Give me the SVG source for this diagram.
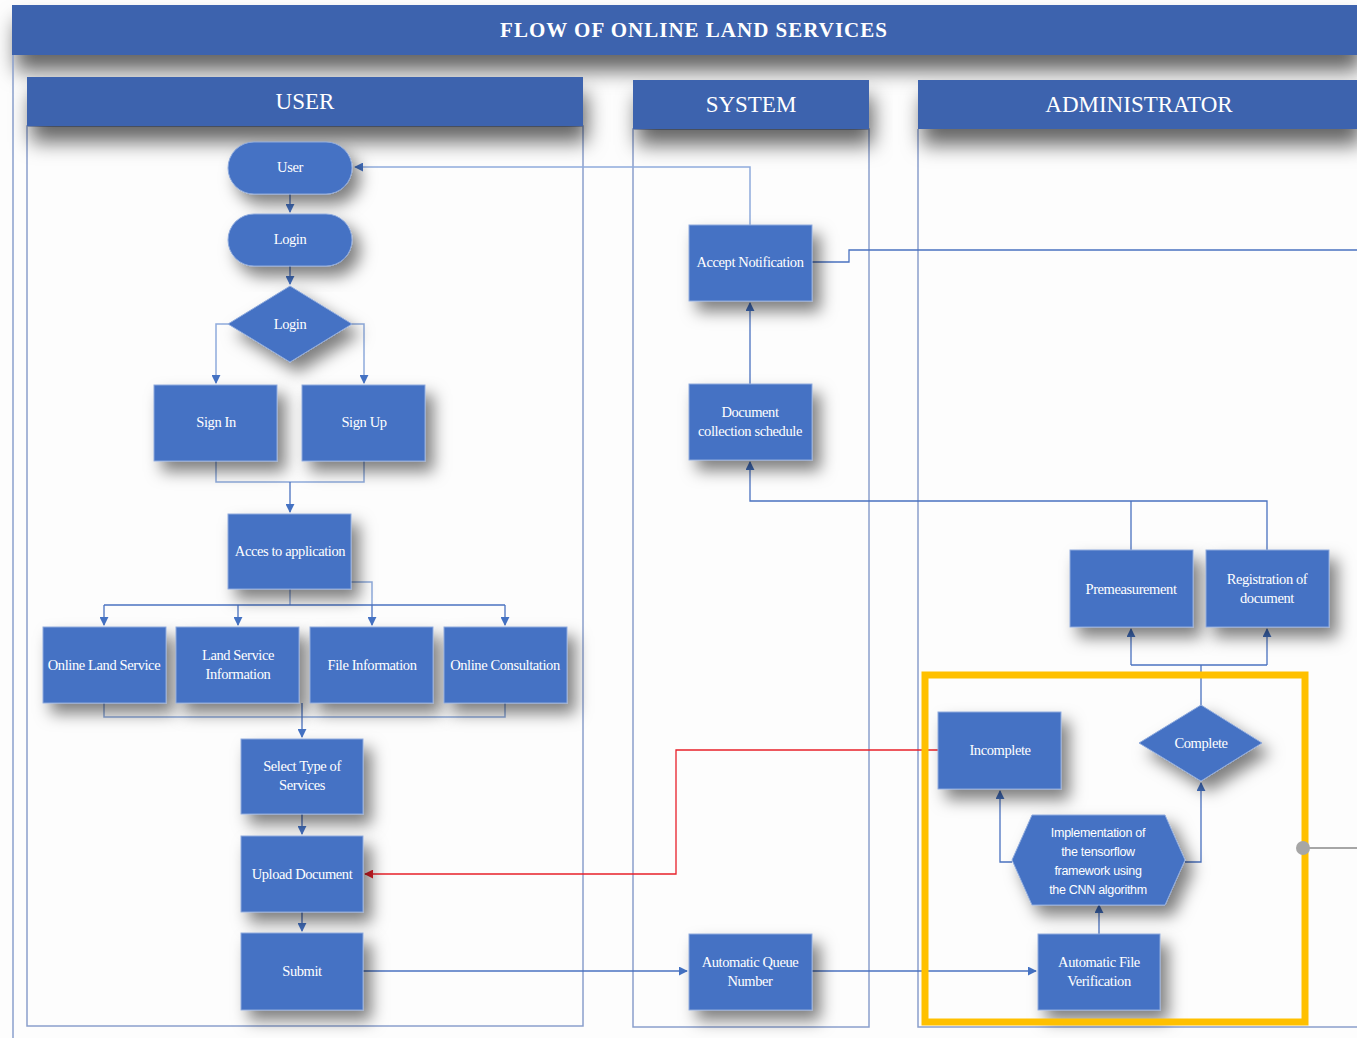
<svg xmlns="http://www.w3.org/2000/svg" width="1357" height="1038" viewBox="0 0 1357 1038">
<defs>
<filter id="sh" x="-30%" y="-30%" width="170%" height="180%">
<feDropShadow dx="8" dy="10" stdDeviation="8" flood-color="#000" flood-opacity="0.5"/>
</filter>
<filter id="hsh" x="-10%" y="-40%" width="120%" height="280%">
<feDropShadow dx="4" dy="16" stdDeviation="10" flood-color="#000" flood-opacity="0.6"/>
</filter>
<marker id="ab" viewBox="0 0 10 10" refX="9" refY="5" markerWidth="9" markerHeight="9" markerUnits="userSpaceOnUse" orient="auto">
<path d="M0,0 L10,5 L0,10 z" fill="#4472C4"/>
</marker>
<marker id="ar" viewBox="0 0 10 10" refX="9" refY="5" markerWidth="9" markerHeight="9" markerUnits="userSpaceOnUse" orient="auto">
<path d="M0,0 L10,5 L0,10 z" fill="#E8202A"/>
</marker>
</defs>
<style>
.hdr{fill:#3D64AE;filter:url(#hsh)}
.lane{fill:none;stroke:#8A9FCC;stroke-width:1.5}
.nd{fill:#4472C4;stroke:#8FAADC;stroke-width:1;filter:url(#sh)}
.t{font-family:"Liberation Serif","Times New Roman",serif;font-size:14.5px;fill:#fff;text-anchor:middle;dominant-baseline:central;letter-spacing:-0.4px}
.ts{font-family:"Liberation Sans",Arial,sans-serif;font-size:12.5px;fill:#fff;text-anchor:middle;dominant-baseline:central;letter-spacing:-0.3px}
.ht{font-family:"Liberation Serif","Times New Roman",serif;font-size:23px;fill:#fff;text-anchor:middle;dominant-baseline:central}
.c{fill:none;stroke:#4A72C0;stroke-width:1.3}
.cl{fill:none;stroke:#8FAADC;stroke-width:1.5}
.cr{fill:none;stroke:#E8202A;stroke-width:1.3}
</style>
<rect x="0" y="0" width="1357" height="1038" fill="#fdfdfd"/>
<g id="frame">
<rect class="hdr" x="12" y="5" width="1345" height="50"/>
<text x="694" y="30" class="ht" style="font-weight:bold;font-size:21px;letter-spacing:1px">FLOW OF ONLINE LAND SERVICES</text>
<line x1="13" y1="55" x2="13" y2="1038" stroke="#8A9FCC" stroke-width="1.5"/>
</g>
<g id="lane-user">
<rect class="lane" x="27" y="126" width="556" height="900"/>
<rect class="hdr" x="27" y="77" width="556" height="49"/>
<text x="305" y="101" class="ht">USER</text>
</g>
<g id="lane-system">
<rect class="lane" x="633" y="129" width="236" height="898"/>
<rect class="hdr" x="633" y="80" width="236" height="49"/>
<text x="751" y="104" class="ht">SYSTEM</text>
</g>
<g id="lane-admin">
<path class="lane" d="M1357,1027 H918 V129"/>
<rect class="hdr" x="918" y="80" width="439" height="49"/>
<text x="1139" y="104" class="ht">ADMINISTRATOR</text>
</g>
<g id="connectors">
<path class="cl" d="M750,225 V167 H355" marker-end="url(#ab)"/>
<path class="c" d="M290,194 V212" marker-end="url(#ab)"/>
<path class="c" d="M290,266 V284" marker-end="url(#ab)"/>
<path class="cl" d="M228,324 H216 V383" marker-end="url(#ab)"/>
<path class="cl" d="M352,324 H364 V383" marker-end="url(#ab)"/>
<path class="cl" d="M216,461 V482 H364 V461"/>
<path class="c" d="M290,482 V512" marker-end="url(#ab)"/>
<path class="cl" d="M290,589 V605"/>
<path class="cl" d="M351,582 H372 V605"/>
<path class="c" d="M104,605 H505"/>
<path class="c" d="M104,605 V625" marker-end="url(#ab)"/>
<path class="c" d="M238,605 V625" marker-end="url(#ab)"/>
<path class="c" d="M372,605 V625" marker-end="url(#ab)"/>
<path class="c" d="M505,605 V625" marker-end="url(#ab)"/>
<path class="cl" d="M104,703 V717 H505 V703"/>
<path class="c" d="M302,703 V737" marker-end="url(#ab)"/>
<path class="c" d="M302,814 V834" marker-end="url(#ab)"/>
<path class="c" d="M302,912 V931" marker-end="url(#ab)"/>
<path class="c" d="M363,971 H687" marker-end="url(#ab)"/>
<path class="c" d="M812,971 H1036" marker-end="url(#ab)"/>
<path class="c" d="M1099,934 V905" marker-end="url(#ab)"/>
<path class="c" d="M1012,862 H1000 V791" marker-end="url(#ab)"/>
<path class="c" d="M1185,862 H1201 V783" marker-end="url(#ab)"/>
<path class="c" d="M1201,705 V665"/>
<path class="c" d="M1131,665 H1267"/>
<path class="c" d="M1131,665 V629" marker-end="url(#ab)"/>
<path class="c" d="M1267,665 V629" marker-end="url(#ab)"/>
<path class="c" d="M1131,550 V501"/>
<path class="c" d="M1267,550 V501 H750 V462" marker-end="url(#ab)"/>
<path class="c" d="M750,384 V303" marker-end="url(#ab)"/>
<path class="c" d="M812,262 H849 V250 H1357"/>
<path class="cr" d="M938,750 H676 V874 H365" marker-end="url(#ar)"/>
</g>
<g id="n-user"><rect class="nd" x="228" y="142" width="124" height="52" rx="26"/><text class="t" x="290" y="167">User</text></g>
<g id="n-login"><rect class="nd" x="228" y="214" width="124" height="52" rx="26"/><text class="t" x="290" y="239">Login</text></g>
<g id="n-login-dec"><polygon class="nd" points="290,286 352,324 290,362 228,324"/><text class="t" x="290" y="324">Login</text></g>
<g id="n-signin"><rect class="nd" x="154" y="385" width="123" height="76"/><text class="t" x="216" y="422">Sign In</text></g>
<g id="n-signup"><rect class="nd" x="302" y="385" width="123" height="76"/><text class="t" x="364" y="422">Sign Up</text></g>
<g id="n-access"><rect class="nd" x="228" y="514" width="123" height="75"/><text class="t" x="290" y="551">Acces to application</text></g>
<g id="n-online-land"><rect class="nd" x="43" y="627" width="123" height="76"/><text class="t" x="104" y="665">Online Land Service</text></g>
<g id="n-land-info"><rect class="nd" x="176" y="627" width="123" height="76"/><text class="t" x="238" y="655">Land Service</text><text class="t" x="238" y="674">Information</text></g>
<g id="n-file-info"><rect class="nd" x="310" y="627" width="123" height="76"/><text class="t" x="372" y="665">File Information</text></g>
<g id="n-consult"><rect class="nd" x="444" y="627" width="123" height="76"/><text class="t" x="505" y="665">Online Consultation</text></g>
<g id="n-select"><rect class="nd" x="241" y="739" width="122" height="75"/><text class="t" x="302" y="766">Select Type of</text><text class="t" x="302" y="785">Services</text></g>
<g id="n-upload"><rect class="nd" x="241" y="836" width="122" height="76"/><text class="t" x="302" y="874">Upload Document</text></g>
<g id="n-submit"><rect class="nd" x="241" y="933" width="122" height="77"/><text class="t" x="302" y="971">Submit</text></g>
<g id="n-accept"><rect class="nd" x="689" y="225" width="123" height="76"/><text class="t" x="750" y="262">Accept Notification</text></g>
<g id="n-doc-sched"><rect class="nd" x="689" y="384" width="123" height="76"/><text class="t" x="750" y="412">Document</text><text class="t" x="750" y="431">collection schedule</text></g>
<g id="n-queue"><rect class="nd" x="689" y="934" width="123" height="76"/><text class="t" x="750" y="962">Automatic Queue</text><text class="t" x="750" y="981">Number</text></g>
<g id="n-premeas"><rect class="nd" x="1070" y="550" width="123" height="77"/><text class="t" x="1131" y="589">Premeasurement</text></g>
<g id="n-registration"><rect class="nd" x="1206" y="550" width="123" height="77"/><text class="t" x="1267" y="579">Registration of</text><text class="t" x="1267" y="598">document</text></g>
<g id="n-incomplete"><rect class="nd" x="938" y="712" width="123" height="77"/><text class="t" x="1000" y="750">Incomplete</text></g>
<g id="n-complete"><polygon class="nd" points="1201,705 1262,743 1201,781 1139,743"/><text class="t" x="1201" y="743">Complete</text></g>
<g id="n-cnn"><polygon class="nd" points="1032,815 1165,815 1185,860 1165,905 1032,905 1012,860"/><text class="ts" x="1098" y="833">Implementation of</text><text class="ts" x="1098" y="852">the tensorflow</text><text class="ts" x="1098" y="871">framework using</text><text class="ts" x="1098" y="890">the CNN algorithm</text></g>
<g id="n-verify"><rect class="nd" x="1038" y="934" width="122" height="76"/><text class="t" x="1099" y="962">Automatic File</text><text class="t" x="1099" y="981">Verification</text></g>
<g id="highlight">
<rect x="925" y="675" width="380" height="347" fill="none" stroke="#FFC000" stroke-width="7"/>
<line x1="1303" y1="848" x2="1357" y2="848" stroke="#A6A6A6" stroke-width="2"/>
<circle cx="1303" cy="848" r="7" fill="#A6A6A6"/>
</g>
</svg>
